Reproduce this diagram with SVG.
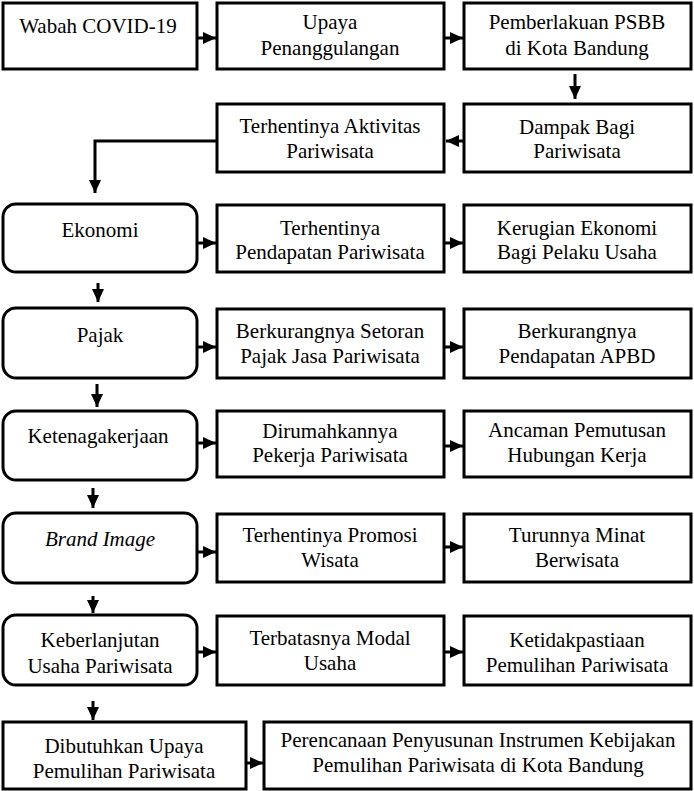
<svg xmlns="http://www.w3.org/2000/svg" width="694" height="791" viewBox="0 0 694 791">
<style>
.b{fill:#fff;stroke:#000;stroke-width:3}
text{font-size:21px;fill:#000;text-anchor:middle}
.i{font-style:italic}
.c{fill:none;stroke:#000;stroke-width:3}
</style>
<defs>
<marker id="ah" markerUnits="userSpaceOnUse" markerWidth="13" markerHeight="12" refX="13" refY="6" orient="auto">
<path d="M0,0 L13,6 L0,12 z" fill="#000"/>
</marker>
</defs>
<rect width="694" height="791" fill="#fff"/>
<g id="connectors">
<path class="c" d="M197,38 H216" marker-end="url(#ah)"/>
<path class="c" d="M444,38 H463" marker-end="url(#ah)"/>
<path class="c" d="M575,74 V99" marker-end="url(#ah)"/>
<path class="c" d="M464,141 H446" marker-end="url(#ah)"/>
<path class="c" d="M217,141 H95 V193" marker-end="url(#ah)"/>
<path class="c" d="M197,243 H216" marker-end="url(#ah)"/>
<path class="c" d="M444,243 H463" marker-end="url(#ah)"/>
<path class="c" d="M98,283 V302" marker-end="url(#ah)"/>
<path class="c" d="M197,347 H216" marker-end="url(#ah)"/>
<path class="c" d="M444,347 H463" marker-end="url(#ah)"/>
<path class="c" d="M97,384 V407" marker-end="url(#ah)"/>
<path class="c" d="M197,443 H216" marker-end="url(#ah)"/>
<path class="c" d="M444,446 H463" marker-end="url(#ah)"/>
<path class="c" d="M93,488 V508" marker-end="url(#ah)"/>
<path class="c" d="M197,552 H216" marker-end="url(#ah)"/>
<path class="c" d="M444,547 H463" marker-end="url(#ah)"/>
<path class="c" d="M93,596 V613" marker-end="url(#ah)"/>
<path class="c" d="M197,652 H216" marker-end="url(#ah)"/>
<path class="c" d="M444,652 H463" marker-end="url(#ah)"/>
<path class="c" d="M93,701 V720" marker-end="url(#ah)"/>
<path class="c" d="M246,763 H263" marker-end="url(#ah)"/>
</g>
<g id="nodes" font-family="Liberation Serif, Tinos, Times New Roman, DejaVu Serif, serif">
<g id="n1"><rect class="b" x="3" y="3" width="194" height="66"/><text x="98" y="33">Wabah COVID-19</text></g>
<g id="n2"><rect class="b" x="217" y="3" width="227" height="66"/><text x="330" y="29">Upaya</text><text x="330" y="55">Penanggulangan</text></g>
<g id="n3"><rect class="b" x="464" y="3" width="227" height="66"/><text x="577" y="29">Pemberlakuan PSBB</text><text x="577" y="55">di Kota Bandung</text></g>
<g id="n4"><rect class="b" x="464" y="104" width="227" height="68"/><text x="577" y="134">Dampak Bagi</text><text x="577" y="158">Pariwisata</text></g>
<g id="n5"><rect class="b" x="217" y="104" width="227" height="68"/><text x="330" y="133">Terhentinya Aktivitas</text><text x="330" y="158">Pariwisata</text></g>
<g id="n6"><rect class="b" x="3" y="204" width="194" height="68" rx="13"/><text x="100" y="237">Ekonomi</text></g>
<g id="n7"><rect class="b" x="217" y="205" width="227" height="67"/><text x="330" y="235">Terhentinya</text><text x="330" y="259">Pendapatan Pariwisata</text></g>
<g id="n8"><rect class="b" x="464" y="205" width="227" height="67"/><text x="577" y="235">Kerugian Ekonomi</text><text x="577" y="259">Bagi Pelaku Usaha</text></g>
<g id="n9"><rect class="b" x="3" y="308" width="194" height="70" rx="13"/><text x="100" y="342">Pajak</text></g>
<g id="n10"><rect class="b" x="217" y="309" width="227" height="69"/><text x="330" y="338">Berkurangnya Setoran</text><text x="330" y="363">Pajak Jasa Pariwisata</text></g>
<g id="n11"><rect class="b" x="464" y="309" width="227" height="69"/><text x="577" y="338">Berkurangnya</text><text x="577" y="363">Pendapatan APBD</text></g>
<g id="n12"><rect class="b" x="3" y="411" width="194" height="69" rx="13"/><text x="98" y="443">Ketenagakerjaan</text></g>
<g id="n13"><rect class="b" x="217" y="411" width="227" height="66"/><text x="330" y="438">Dirumahkannya</text><text x="330" y="462">Pekerja Pariwisata</text></g>
<g id="n14"><rect class="b" x="464" y="411" width="227" height="66"/><text x="577" y="437">Ancaman Pemutusan</text><text x="577" y="462">Hubungan Kerja</text></g>
<g id="n15"><rect class="b" x="3" y="513" width="194" height="70" rx="13"/><text class="i" x="100" y="546">Brand Image</text></g>
<g id="n16"><rect class="b" x="217" y="514" width="227" height="68"/><text x="330" y="542">Terhentinya Promosi</text><text x="330" y="567">Wisata</text></g>
<g id="n17"><rect class="b" x="464" y="514" width="227" height="68"/><text x="577" y="542">Turunnya Minat</text><text x="577" y="567">Berwisata</text></g>
<g id="n18"><rect class="b" x="3" y="615" width="194" height="70" rx="13"/><text x="100" y="647">Keberlanjutan</text><text x="100" y="673">Usaha Pariwisata</text></g>
<g id="n19"><rect class="b" x="217" y="616" width="227" height="69"/><text x="330" y="645">Terbatasnya Modal</text><text x="330" y="670">Usaha</text></g>
<g id="n20"><rect class="b" x="464" y="616" width="227" height="69"/><text x="577" y="647">Ketidakpastiaan</text><text x="577" y="672">Pemulihan Pariwisata</text></g>
<g id="n21"><rect class="b" x="3" y="722" width="243" height="67"/><text x="124" y="753">Dibutuhkan Upaya</text><text x="124" y="778">Pemulihan Pariwisata</text></g>
<g id="n22"><rect class="b" x="264" y="722" width="427" height="67"/><text x="478" y="747">Perencanaan Penyusunan Instrumen Kebijakan</text><text x="478" y="772">Pemulihan Pariwisata di Kota Bandung</text></g>
</g>
</svg>
